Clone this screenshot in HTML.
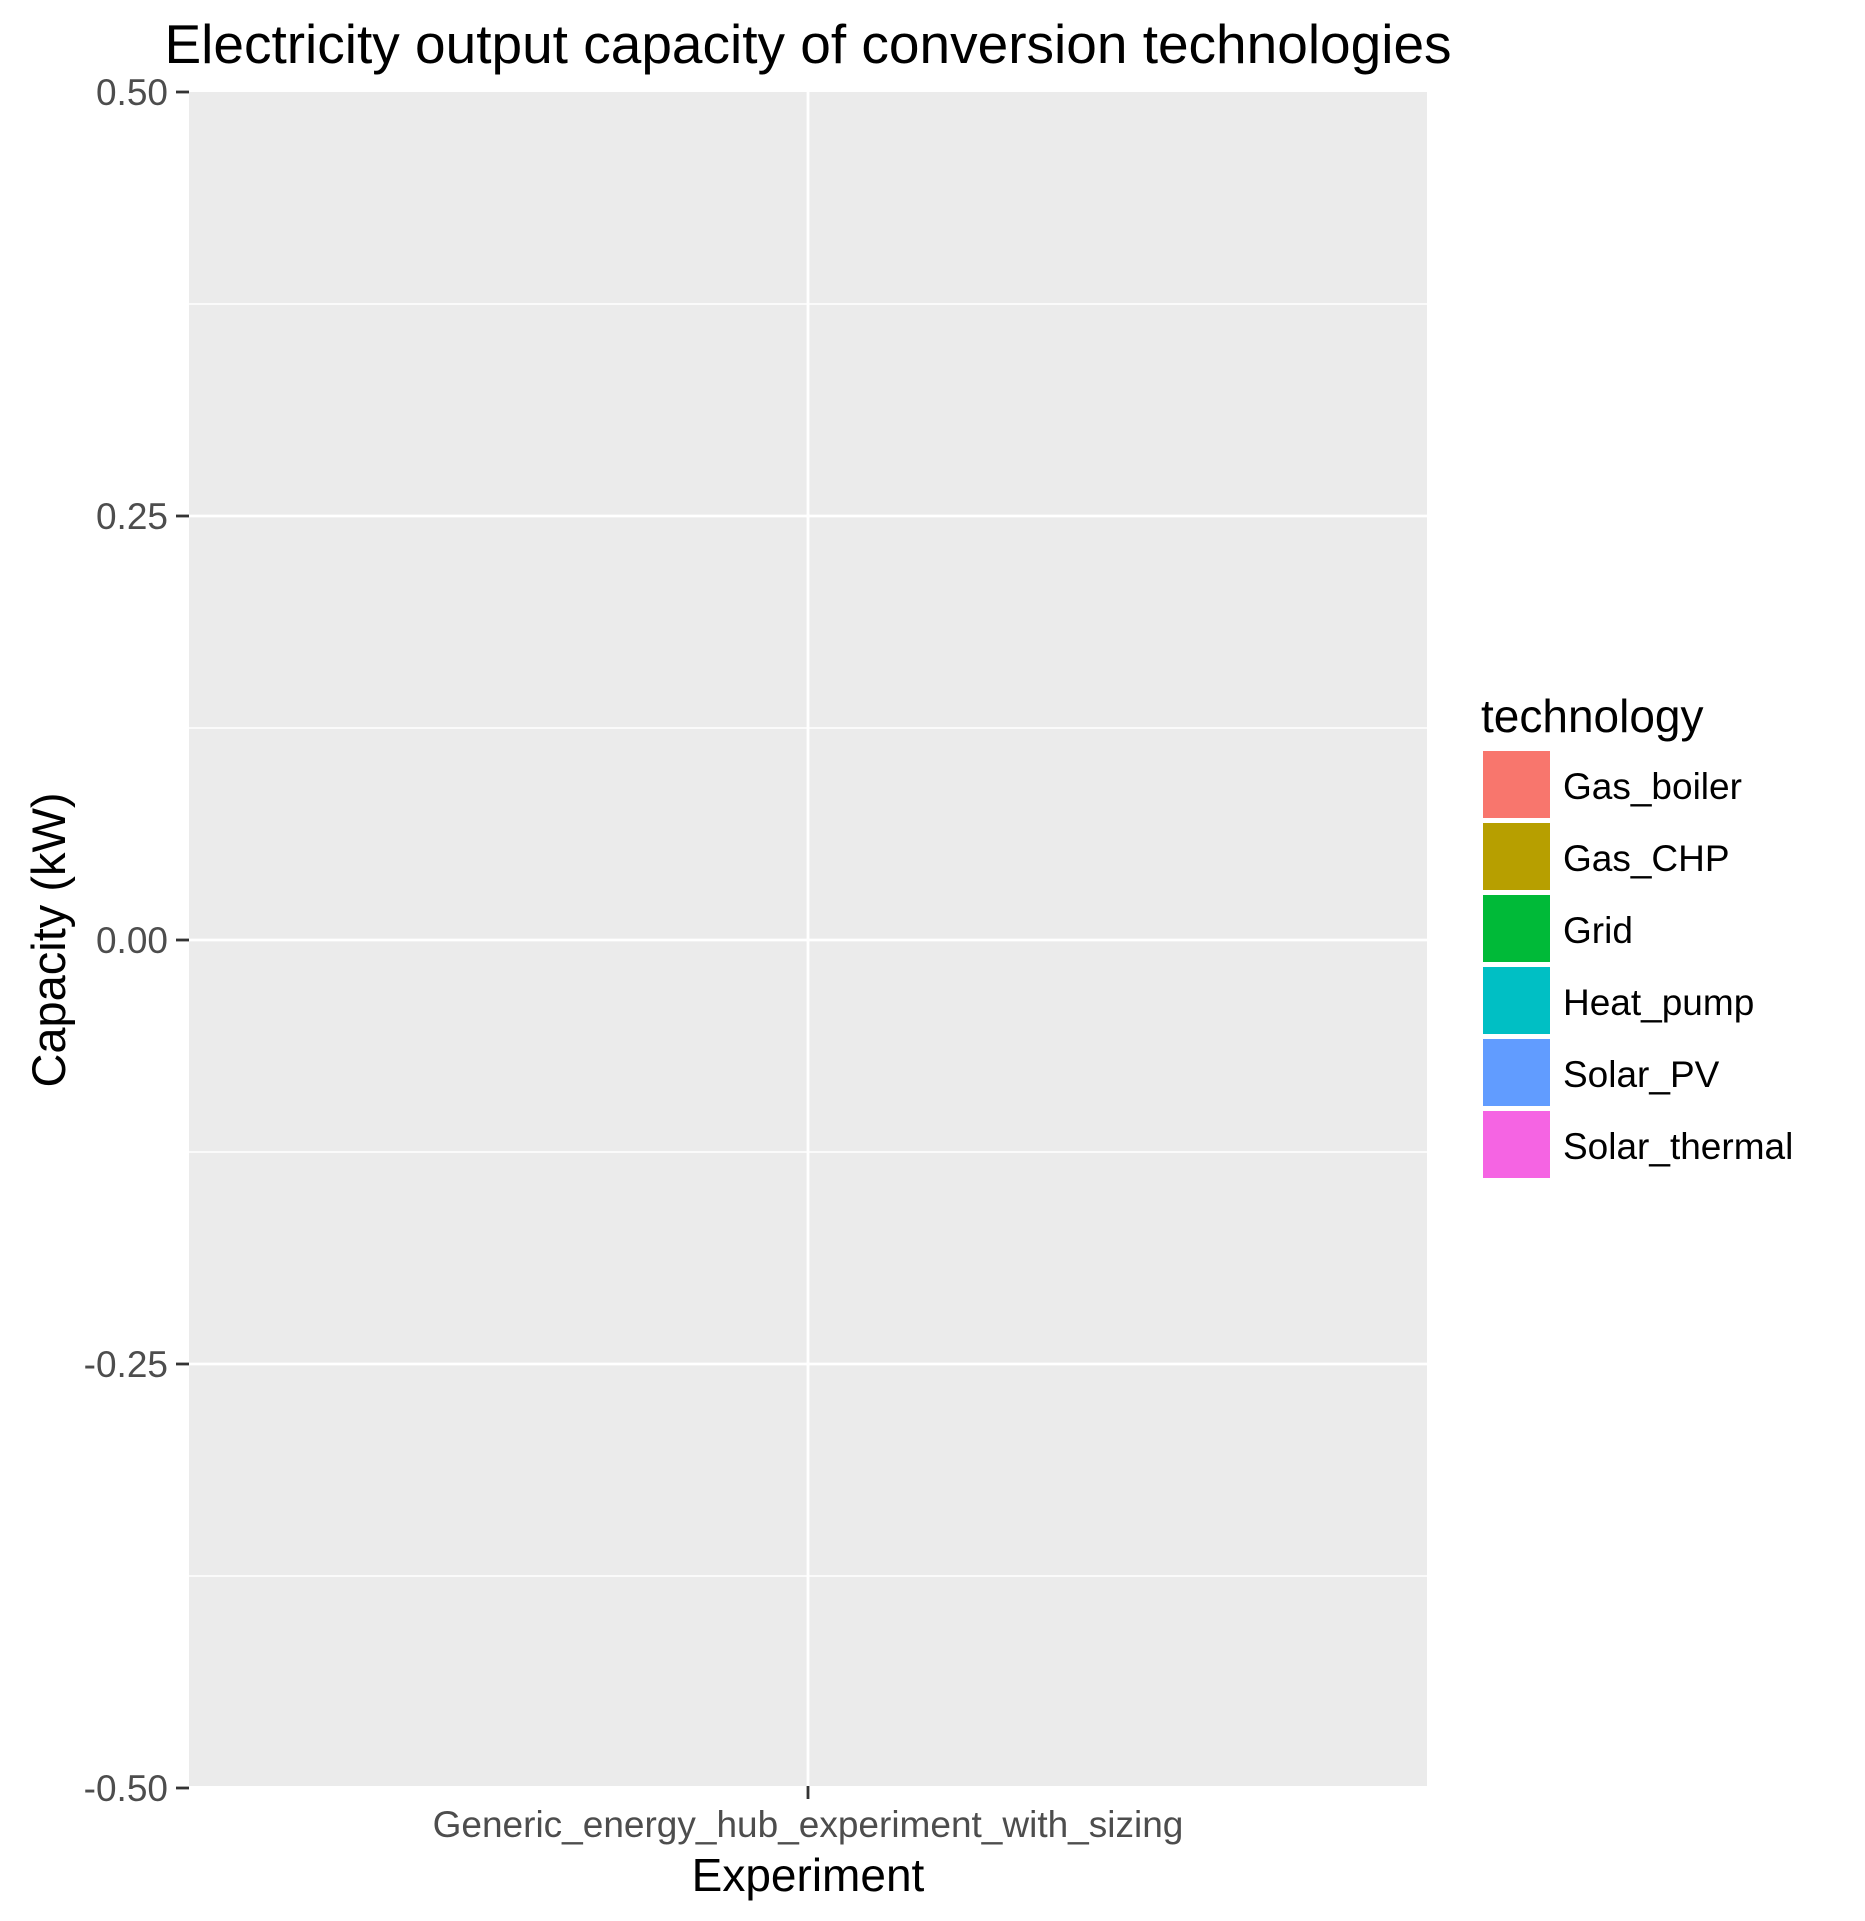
<!DOCTYPE html>
<html><head><meta charset="utf-8"><style>
html,body{margin:0;padding:0;background:#fff;}
svg{display:block;font-family:"Liberation Sans",Arial,sans-serif;}
</style></head><body>
<svg id="chart" width="1865" height="1921" viewBox="0 0 1865 1921">
<text x="808" y="63" font-size="55" text-anchor="middle" fill="#000">Electricity output capacity of conversion technologies</text>
<rect x="189" y="92" width="1238" height="1694" fill="#ebebeb"/>
<g id="grid"></g>
<g id="yaxis"></g>
<g id="xaxis"></g>
<text transform="translate(65,940) rotate(-90)" font-size="47" text-anchor="middle" fill="#000">Capacity (kW)</text>
<text x="808" y="1891" font-size="46" text-anchor="middle" fill="#000">Experiment</text>
<g id="legend">
<text x="1481" y="732" font-size="46" fill="#000">technology</text>
</g>
</svg>
<script>
const categories = ["Generic_energy_hub_experiment_with_sizing"];
const yTicks = [0.5, 0.25, 0, -0.25, -0.5];
const yTickLabels = ["0.50", "0.25", "0.00", "-0.25", "-0.50"];
const yMinor = [0.375, 0.125, -0.125, -0.375];
const technologies = ["Gas_boiler", "Gas_CHP", "Grid", "Heat_pump", "Solar_PV", "Solar_thermal"];
const techColors = ["#F8766D", "#B79F00", "#00BA38", "#00BFC4", "#619CFF", "#F564E3"];

const NS = "http://www.w3.org/2000/svg";
const panel = {x0:189, x1:1427, y0:92, y1:1786};
function yScale(v){ return 940 - v * 1696; }
function xScale(i){ const bw=(panel.x1-panel.x0)/categories.length; return panel.x0 + bw*(i+0.5); }
function mk(tag, attrs, parent){ const e=document.createElementNS(NS,tag); for(const k in attrs) e.setAttribute(k,attrs[k]); parent.appendChild(e); return e; }

const grid=document.getElementById('grid');
yMinor.forEach(v=>{
  const l=mk('line',{x1:panel.x0,x2:panel.x1,y1:yScale(v),y2:yScale(v),stroke:'#fff','stroke-width':1.4},grid);
  
  
});
yTicks.forEach(v=>{
  const y=yScale(v);
  if(y>panel.y0+1 && y<panel.y1-1){
    const l=mk('line',{x1:panel.x0,x2:panel.x1,y1:y,y2:y,stroke:'#fff','stroke-width':2.8},grid);
    
    
  }
});
categories.forEach((c,i)=>{
  const l=mk('line',{x1:xScale(i),x2:xScale(i),y1:panel.y0,y2:panel.y1,stroke:'#fff','stroke-width':2.8},grid);
  
  
});

const ya=document.getElementById('yaxis');
yTicks.forEach((v,i)=>{
  const y=yScale(v);
  const t=mk('line',{x1:176,x2:189,y1:y,y2:y,stroke:'#333','stroke-width':2.8},ya);
  
  
  const tx=mk('text',{x:168,y:y+13,'font-size':37,'text-anchor':'end',fill:'#4d4d4d'},ya);
  tx.textContent=yTickLabels[i];
  
  
});

const xa=document.getElementById('xaxis');
categories.forEach((c,i)=>{
  const x=xScale(i);
  const t=mk('line',{x1:x,x2:x,y1:panel.y1,y2:panel.y1+13,stroke:'#333','stroke-width':2.8},xa);
  
  
  const tx=mk('text',{x:x,y:1837,'font-size':37,'text-anchor':'middle',fill:'#4d4d4d'},xa);
  tx.textContent=c;
  
  
});

const lg=document.getElementById('legend');
technologies.forEach((name,i)=>{
  const y=751+i*72;
  const r=mk('rect',{x:1483,y:y,width:67,height:67,fill:techColors[i]},lg);
  
  
  const tx=mk('text',{x:1563,y:y+48,'font-size':37,fill:'#000'},lg);
  tx.textContent=name;
  
  
});
</script>
</body></html>
